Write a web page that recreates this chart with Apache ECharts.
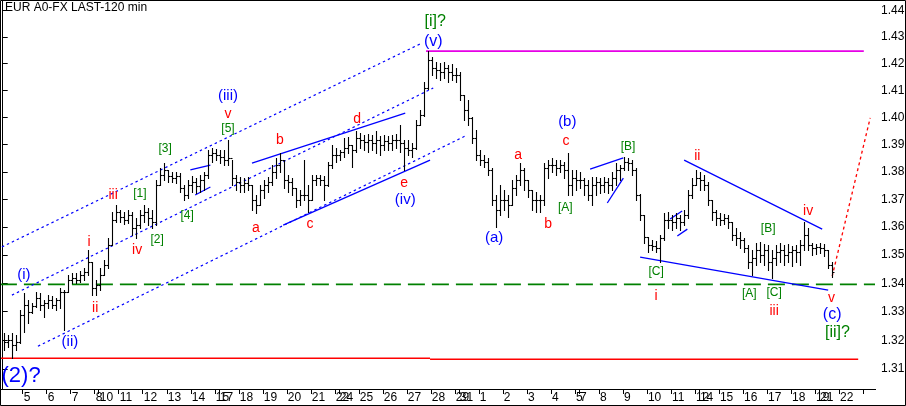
<!DOCTYPE html>
<html><head><meta charset="utf-8">
<script src="https://cdn.jsdelivr.net/npm/echarts@6/dist/echarts.min.js"></script>
<style>html,body{margin:0;padding:0;background:#fff}#c{width:906px;height:406px}</style>
</head><body><div id="c"></div>
<script>
const chartTitle = 'EUR A0-FX LAST-120 min';
const dayLabels = ['', '5','6','7','8','10','11','12','13','14','15','17','18','19','20','21','22','24','25','26','27','28','29','31','1','2','3','4','5','7','8','9','10','11','12','14','15','16','17','18','19','21','22',''];
const barsPerDay = [5, 6,6,6,1,5,6,6,6,6,1,5,6,6,6,6,1,5,6,6,6,6,1,5,6,6,6,6,1,5,6,6,6,6,1,5,6,6,6,6,1,5,6, 3];
const priceTicks = [1.31,1.32,1.33,1.34,1.35,1.36,1.37,1.38,1.39,1.40,1.41,1.42,1.43,1.44];
const firstOpen = 1.3200;
const highs = [
1.3225,1.3218,1.3225,1.3218,1.3305,1.3365,1.3341,1.3330,1.3369,1.3365,
1.3341,1.3358,1.3355,1.3348,1.3383,1.3376,1.3429,1.3436,1.3436,1.3443,
1.3454,1.3518,1.3475,1.3411,1.3454,1.3482,1.3561,1.3654,1.3680,1.3661,
1.3654,1.3661,1.3654,1.3632,1.3661,1.3680,1.3669,1.3661,1.3770,1.3814,
1.3832,1.3807,1.3799,1.3799,1.3796,1.3752,1.3770,1.3785,1.3777,1.3788,
1.3799,1.3880,1.3887,1.3883,1.3880,1.3880,1.3916,1.3843,1.3788,1.3781,
1.3777,1.3781,1.3752,1.3716,1.3752,1.3770,1.3781,1.3825,1.3851,1.3869,
1.3845,1.3788,1.3777,1.3741,1.3734,1.3843,1.3752,1.3788,1.3788,1.3788,
1.3785,1.3836,1.3898,1.3887,1.3880,1.3924,1.3928,1.3898,1.3948,1.3943,
1.3935,1.3939,1.3935,1.3948,1.3931,1.3935,1.3931,1.3935,1.3939,1.3972,
1.3916,1.3916,1.3906,1.3990,1.4027,1.4131,1.4247,1.4225,1.4206,1.4203,
1.4206,1.4195,1.4199,1.4184,1.4169,1.4083,1.4064,1.4000,1.3953,1.3880,
1.3861,1.3851,1.3814,1.3716,1.3752,1.3734,1.3716,1.3770,1.3788,1.3832,
1.3814,1.3770,1.3734,1.3727,1.3716,1.3832,1.3843,1.3851,1.3843,1.3843,
1.3836,1.3869,1.3807,1.3807,1.3799,1.3777,1.3770,1.3781,1.3781,1.3777,
1.3781,1.3777,1.3799,1.3832,1.3825,1.3854,1.3851,1.3843,1.3814,1.3718,
1.3643,1.3566,1.3554,1.3550,1.3572,1.3651,1.3654,1.3643,1.3651,1.3643,
1.3661,1.3734,1.3777,1.3807,1.3799,1.3788,1.3763,1.3698,1.3661,1.3651,
1.3647,1.3643,1.3618,1.3596,1.3582,1.3561,1.3536,1.3518,1.3543,1.3547,
1.3540,1.3536,1.3518,1.3536,1.3543,1.3536,1.3540,1.3532,1.3536,1.3554,
1.3618,1.3596,1.3543,1.3540,1.3543,1.3540,1.3518,1.3475];
const lows = [
1.3165,1.3176,1.3138,1.3165,1.3190,1.3228,1.3260,1.3295,1.3316,1.3305,
1.3281,1.3313,1.3313,1.3305,1.3313,1.3235,1.3369,1.3401,1.3401,1.3404,
1.3411,1.3429,1.3358,1.3358,1.3376,1.3429,1.3454,1.3536,1.3618,1.3618,
1.3611,1.3614,1.3572,1.3561,1.3596,1.3618,1.3607,1.3596,1.3607,1.3752,
1.3770,1.3763,1.3763,1.3759,1.3727,1.3698,1.3705,1.3727,1.3723,1.3727,
1.3734,1.3777,1.3836,1.3843,1.3832,1.3825,1.3825,1.3752,1.3734,1.3727,
1.3727,1.3734,1.3661,1.3651,1.3680,1.3705,1.3727,1.3752,1.3777,1.3799,
1.3741,1.3727,1.3716,1.3672,1.3680,1.3698,1.3654,1.3698,1.3752,1.3752,
1.3698,1.3750,1.3814,1.3836,1.3843,1.3854,1.3869,1.3818,1.3872,1.3887,
1.3880,1.3872,1.3880,1.3869,1.3861,1.3880,1.3880,1.3880,1.3887,1.3872,
1.3807,1.3861,1.3854,1.3885,1.3972,1.4005,1.4105,1.4158,1.4146,1.4139,
1.4146,1.4131,1.4139,1.4131,1.4064,1.3990,1.3972,1.3906,1.3843,1.3825,
1.3818,1.3788,1.3680,1.3600,1.3643,1.3661,1.3636,1.3678,1.3716,1.3752,
1.3734,1.3708,1.3661,1.3654,1.3654,1.3680,1.3777,1.3799,1.3788,1.3799,
1.3777,1.3716,1.3716,1.3734,1.3741,1.3716,1.3698,1.3680,1.3716,1.3723,
1.3727,1.3723,1.3734,1.3752,1.3770,1.3807,1.3807,1.3788,1.3698,1.3625,
1.3543,1.3511,1.3518,1.3511,1.3475,1.3554,1.3596,1.3590,1.3596,1.3590,
1.3607,1.3632,1.3705,1.3752,1.3734,1.3734,1.3680,1.3625,1.3607,1.3607,
1.3611,1.3596,1.3554,1.3536,1.3525,1.3511,1.3454,1.3429,1.3464,1.3475,
1.3464,1.3447,1.3418,1.3464,1.3475,1.3464,1.3475,1.3461,1.3475,1.3464,
1.3518,1.3518,1.3500,1.3504,1.3507,1.3496,1.3454,1.3422];
const closes = [
1.3193,1.3200,1.3183,1.3193,1.3288,1.3323,1.3298,1.3320,1.3348,1.3323,
1.3330,1.3341,1.3323,1.3341,1.3369,1.3369,1.3411,1.3418,1.3411,1.3429,
1.3440,1.3475,1.3383,1.3393,1.3429,1.3464,1.3536,1.3625,1.3654,1.3636,
1.3625,1.3643,1.3596,1.3607,1.3643,1.3654,1.3632,1.3618,1.3752,1.3788,
1.3807,1.3785,1.3777,1.3785,1.3741,1.3716,1.3752,1.3763,1.3748,1.3770,
1.3788,1.3861,1.3869,1.3861,1.3854,1.3843,1.3851,1.3777,1.3763,1.3752,
1.3759,1.3752,1.3698,1.3680,1.3734,1.3752,1.3763,1.3799,1.3825,1.3843,
1.3770,1.3763,1.3741,1.3698,1.3716,1.3716,1.3698,1.3770,1.3777,1.3770,
1.3752,1.3825,1.3861,1.3861,1.3872,1.3887,1.3898,1.3880,1.3924,1.3916,
1.3909,1.3916,1.3906,1.3916,1.3898,1.3913,1.3906,1.3916,1.3916,1.3906,
1.3887,1.3880,1.3887,1.3972,1.4009,1.4109,1.4214,1.4184,1.4176,1.4169,
1.4184,1.4169,1.4158,1.4158,1.4083,1.4027,1.3998,1.3924,1.3861,1.3843,
1.3836,1.3807,1.3698,1.3661,1.3698,1.3698,1.3680,1.3741,1.3770,1.3807,
1.3770,1.3734,1.3698,1.3698,1.3698,1.3814,1.3825,1.3825,1.3814,1.3825,
1.3807,1.3752,1.3777,1.3770,1.3770,1.3752,1.3716,1.3752,1.3763,1.3752,
1.3763,1.3752,1.3777,1.3807,1.3814,1.3836,1.3832,1.3807,1.3716,1.3643,
1.3564,1.3536,1.3532,1.3525,1.3561,1.3625,1.3625,1.3618,1.3632,1.3618,
1.3643,1.3716,1.3752,1.3777,1.3770,1.3752,1.3698,1.3654,1.3632,1.3625,
1.3632,1.3618,1.3572,1.3561,1.3554,1.3525,1.3475,1.3489,1.3518,1.3500,
1.3518,1.3475,1.3489,1.3511,1.3518,1.3500,1.3511,1.3518,1.3511,1.3536,
1.3572,1.3536,1.3525,1.3529,1.3525,1.3518,1.3464,1.3440];

// wave labels: text, bar position, price, kind
const waveText  = ['(2)?','(i)','(ii)','i','ii','iii','iv','[1]','[2]','[3]','[4]','[5]','v','(iii)','a','b','c','d','e','(iv)','(v)','[i]?','(a)','a','b','[A]','c','(b)','[B]','[C]','i','ii','[B]','iv','[A]','[C]','iii','v','(c)','[ii]?'];
const waveX     = [4.6,5.3,16.8,21.6,23.1,27.6,33.6,34.3,38.6,40.6,46.1,56.3,56.3,56.3,63.3,69.3,76.8,88.6,100.3,100.6,107.6,108.1,122.8,128.8,136.3,140.6,140.8,141.1,156.3,163.3,163.3,173.6,191.3,201.3,186.6,192.8,192.8,207.1,207.3,208.6];
const wavePrice = [1.3076,1.3429,1.3193,1.3547,1.3313,1.3716,1.3518,1.3719,1.3554,1.3884,1.3643,1.3957,1.4012,1.4079,1.3596,1.3916,1.3611,1.3994,1.3759,1.3698,1.4284,1.4357,1.3561,1.3861,1.3611,1.3669,1.3913,1.3983,1.3891,1.3440,1.3355,1.3858,1.3596,1.3658,1.3362,1.3365,1.3302,1.3348,1.3291,1.3225];
const waveKind  = ['big','blue','blue','red','red','red','red','green','green','green','green','green','red','blue','red','red','red','red','red','blue','blueL','greenL','blue','red','red','green','red','blue','green','green','red','red','green','red','green','green','red','red','blueL','greenL'];

// drawn lines: start/end bar position and price, kind
const lineX1 = [-0.7,106.8,-0.7,105.8,-0.2,2.3,8.8,62.3,70.1,46.9,48.1,146.8,151.1,166.8,168.6,170.3,159.3,207.3];
const lineP1 = [1.3137,1.3134,1.3396,1.4247,1.3529,1.3358,1.3179,1.3832,1.3607,1.3807,1.3716,1.3810,1.3687,1.3629,1.3568,1.3843,1.3493,1.3425];
const lineX2 = [106.8,213.8,218,215.2,104.3,107.6,116.1,100.6,106.8,51.9,51.9,155.1,155.1,169.8,171.1,204.8,206.3,216.8];
const lineP2 = [1.3137,1.3134,1.3396,1.4247,1.4274,1.4109,1.3935,1.4016,1.3843,1.3825,1.3745,1.3851,1.3777,1.3658,1.3593,1.3593,1.3376,1.3998];
const lineKind = ['red','red','greenDash','magenta','dot','dot','dot','solid','solid','solid','solid','solid','solid','solid','solid','solid','solid','proj'];

const FONT = 'Arial, "Liberation Sans", sans-serif';
const textStyles = {
  big:   {fill:'#0000ff', size:22},
  blue:  {fill:'#0000ff', size:15},
  blueL: {fill:'#0000ff', size:16},
  red:   {fill:'#ff0000', size:14},
  green: {fill:'#008000', size:12},
  greenL:{fill:'#008000', size:16}
};
const lineStyles = {
  red:      {stroke:'#ff0000', lineWidth:1.6},
  greenDash:{stroke:'#008000', lineWidth:1.6, lineDash:[17,7]},
  magenta:  {stroke:'#e600e6', lineWidth:1.6},
  dot:      {stroke:'#0000ff', lineWidth:1.2, lineDash:[2.5,3]},
  solid:    {stroke:'#0000ff', lineWidth:1.3},
  proj:     {stroke:'#ff0000', lineWidth:1.3, lineDash:[3,3]}
};

// build axis ticks from the day table
const dayStart = [];
let acc = 0;
barsPerDay.forEach(n => { dayStart.push(acc); acc += n; });
const totalBars = acc;
const tickVals = dayStart.slice(1);
const labelVals = dayStart.filter((s, i) => dayLabels[i] !== '');
const labelMap = {};
dayStart.forEach((s, i) => { if (dayLabels[i] !== '') labelMap[s] = dayLabels[i]; });

const barData = closes.map((c, i) => [i + 0.5, i ? closes[i - 1] : firstOpen, highs[i], lows[i], c]);
const labelData = waveX.map((x, i) => [x, wavePrice[i]]);
const lineData = lineX1.map((x, i) => [x, lineP1[i], lineX2[i], lineP2[i]]);

const chart = echarts.init(document.getElementById('c'), null, {renderer: 'canvas'});
chart.setOption({
  animation: false,
  backgroundColor: '#fff',
  grid: {left: 2.7, right: 31, top: 1, bottom: 17, outerBoundsMode: 'none', containLabel: false},
  xAxis: {
    type: 'value', min: 0, max: totalBars, position: 'bottom',
    axisLine: {show: true, lineStyle: {color: '#000', width: 1}},
    axisTick: {show: true, customValues: tickVals, length: 5, inside: false, lineStyle: {color: '#000'}},
    axisLabel: {show: true, customValues: labelVals, formatter: v => labelMap[Math.round(v)] || '', align: 'left', margin: 3, padding: [0,0,0,1], color: '#000', fontSize: 12, fontFamily: FONT, hideOverlap: false},
    splitLine: {show: false}
  },
  yAxis: {
    type: 'log', logBase: 10, min: 1.30310, max: 1.44369, position: 'right',
    axisLine: {show: true, lineStyle: {color: '#000', width: 1}},
    axisTick: {show: true, customValues: priceTicks, length: 5, inside: false, lineStyle: {color: '#000'}},
    axisLabel: {show: true, customValues: priceTicks, formatter: v => Number(v).toFixed(2), margin: 6, color: '#000', fontSize: 12, fontFamily: FONT, hideOverlap: false},
    splitLine: {show: false}
  },
  graphic: [
    {type: 'rect', shape: {x: 0.5, y: 0.5, width: 905, height: 405}, style: {fill: 'none', stroke: '#000', lineWidth: 1}, silent: true, z: 100},
    {type: 'line', shape: {x1: 0, y1: 389.5, x2: 876, y2: 389.5}, style: {stroke: '#000', lineWidth: 1}, silent: true, z: 100},
    {type: 'text', left: 5, top: 2, style: {text: chartTitle, font: '12px ' + FONT, fill: '#000'}, silent: true, z: 100}
  ],
  series: [
    {
      type: 'custom', name: 'lines', data: lineData, encode: {x: [0, 2], y: [1, 3]}, clip: false, z: 2,
      renderItem: (params, api) => {
        const k = lineKind[params.dataIndex];
        const a = api.coord([api.value(0), api.value(1)]);
        const b = api.coord([api.value(2), api.value(3)]);
        return {type: 'line', shape: {x1: a[0], y1: a[1], x2: b[0], y2: b[1]}, style: Object.assign({fill: null}, lineStyles[k])};
      }
    },
    {
      type: 'custom', name: 'bars', data: barData, encode: {x: 0, y: [1, 2, 3, 4]}, z: 3,
      renderItem: (params, api) => {
        const x = api.value(0);
        const o = api.coord([x, api.value(1)]);
        const h = api.coord([x, api.value(2)]);
        const l = api.coord([x, api.value(3)]);
        const c = api.coord([x, api.value(4)]);
        const cx = Math.floor(o[0]) + 0.5;
        const st = {stroke: '#000', lineWidth: 1.1};
        const yo = Math.round(o[1]) + 0.5, yc = Math.round(c[1]) + 0.5;
        return {type: 'group', children: [
          {type: 'line', shape: {x1: cx, y1: Math.round(h[1]), x2: cx, y2: Math.round(l[1]) + 1}, style: st},
          {type: 'line', shape: {x1: cx - 2, y1: yo, x2: cx, y2: yo}, style: st},
          {type: 'line', shape: {x1: cx, y1: yc, x2: cx + 2, y2: yc}, style: st}
        ]};
      }
    },
    {
      type: 'custom', name: 'labels', data: labelData, encode: {x: 0, y: 1}, clip: false, z: 4,
      renderItem: (params, api) => {
        const i = params.dataIndex;
        const p = api.coord([api.value(0), api.value(1)]);
        const s = textStyles[waveKind[i]];
        return {type: 'text', x: p[0], y: p[1], style: {text: waveText[i], fill: s.fill, font: s.size + 'px ' + FONT, align: 'center', verticalAlign: 'middle'}};
      }
    }
  ]
});
</script>
</body></html>
